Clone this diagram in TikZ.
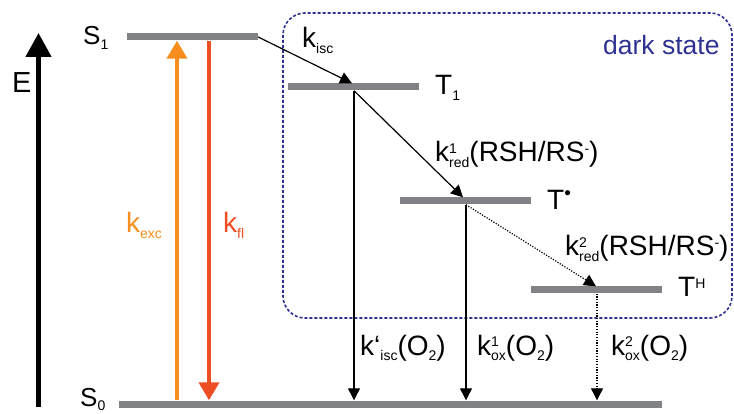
\documentclass[tikz,border=0pt]{standalone}
\usepackage{fontspec}
\setmainfont{Liberation Sans}
\usetikzlibrary{arrows.meta,calc}
\definecolor{bargray}{RGB}{128,130,133}
\definecolor{exccol}{RGB}{247,142,30}
\definecolor{flcol}{RGB}{238,78,36}
\definecolor{navy}{RGB}{46,49,146}
\newcommand{\sm}[1]{{\fontsize{14}{14}\selectfont #1}}
\newcommand{\rsub}[1]{\raisebox{-0.18em}{\sm{#1}}}
\newcommand{\rsup}[1]{\raisebox{0.3em}{\sm{#1}}}
\newcommand{\both}[2]{\rlap{\rsup{#1}}\rsub{#2}}
\newcommand{\mydot}{\raisebox{0.36em}{{\fontsize{19}{19}\selectfont •}}}
\begin{document}
\begin{tikzpicture}[x=1pt,y=-1pt,
  font=\fontsize{28}{30}\selectfont,
  bar/.style={fill=bargray, draw=none, rectangle, inner sep=0pt, minimum height=7pt},
  lbl/.style={anchor=base west, inner sep=0pt},
  thin/.style={-{Triangle[length=12pt,width=12pt]}, line width=1.2pt},
  dotline/.style={thin, dash pattern=on 1.2pt off 1.5pt},
  thick/.style={-{Triangle[length=18pt,width=20pt]}, line width=4pt},
  dsbox/.style={draw=navy, line width=1.6pt, dash pattern=on 3pt off 2pt, rounded corners=22pt}]
\useasboundingbox (0,0) rectangle (734,414);

% dark state box
\draw[dsbox] (283,13) rectangle (732,318);
\node[lbl, text=navy, font=\fontsize{26.5}{30}\selectfont] (ds) at (603,55) {dark state};

% energy levels
\node[bar, minimum width=131pt] (S1) at (192.5,37) {};
\node[bar, minimum width=131pt] (T1) at (353.5,87) {};
\node[bar, minimum width=131pt] (Tr) at (465.5,201) {};
\node[bar, minimum width=131pt] (TH) at (596.5,290) {};
\node[bar, minimum width=543pt] (S0) at (390.5,404) {};

% x positions of transitions
\coordinate (xexc) at (177,0);
\coordinate (xfl) at (209,0);
\coordinate (xisc) at (352,0);
\coordinate (xT1) at (354,0);
\coordinate (xred1) at (463,0);
\coordinate (xTr) at (466,0);
\coordinate (xred2) at (596,0);
\coordinate (xTH) at (597,0);

% energy axis
\coordinate (Ebot) at (38.5,407);
\coordinate (Etop) at (38.5,33);
\draw[-{Triangle[length=24pt,width=25pt]}, line width=4.5pt] (Ebot) -- (Etop);
\node[lbl, font=\fontsize{29}{30}\selectfont] (E) at (12,93) {E};

% level labels
\node[lbl, font=\fontsize{26}{30}\selectfont] (lS1) at (83,45) {S\rsub{1}};
\node[lbl] (lT1) at (435,95) {T\rsub{1}};
\node[lbl] (lTr) at (547,210) {T\mydot};
\node[lbl] (lTH) at (678,297) {T\rsup{H}};
\node[lbl, font=\fontsize{26}{30}\selectfont] (lS0) at (80,406) {S\rsub{0}};

% excitation / fluorescence
\draw[thick, exccol] (S0.north -| xexc) -- (S1.south -| xexc);
\draw[thick, flcol] (S1.south -| xfl) -- (S0.north -| xfl);
\node[lbl, text=exccol] (lexc) at (126,233) {k\rsub{exc}};
\node[lbl, text=flcol] (lfl) at (223,233) {k\rsub{fl}};

% intersystem crossing
\draw[thin] (S1.east) -- (T1.north -| xisc);
\node[lbl] (lisc) at (302,48) {k\rsub{isc}};

% reductions
\draw[thin] (T1.south -| xT1) -- (Tr.north -| xred1);
\node[lbl] (lred1) at (435,162) {k\both{1}{red}(RSH/RS\rsup{-})};
\draw[dotline] (Tr.south -| xTr) -- (TH.north -| xred2);
\node[lbl] (lred2) at (565,256) {k\both{2}{red}(RSH/RS\rsup{-})};

% decays to ground state
\draw[thin] (T1.south -| xT1) -- (S0.north -| xT1);
\draw[thin] (Tr.south -| xTr) -- (S0.north -| xTr);
\draw[dotline] (TH.south -| xTH) -- (S0.north -| xTH);
\node[lbl] (lox0) at (360,355) {k‘\rsub{isc}(O\rsub{2})};
\node[lbl] (lox1) at (477,355) {k\both{1}{ox}(O\rsub{2})};
\node[lbl] (lox2) at (611,355) {k\both{2}{ox}(O\rsub{2})};
\end{tikzpicture}
\end{document}
